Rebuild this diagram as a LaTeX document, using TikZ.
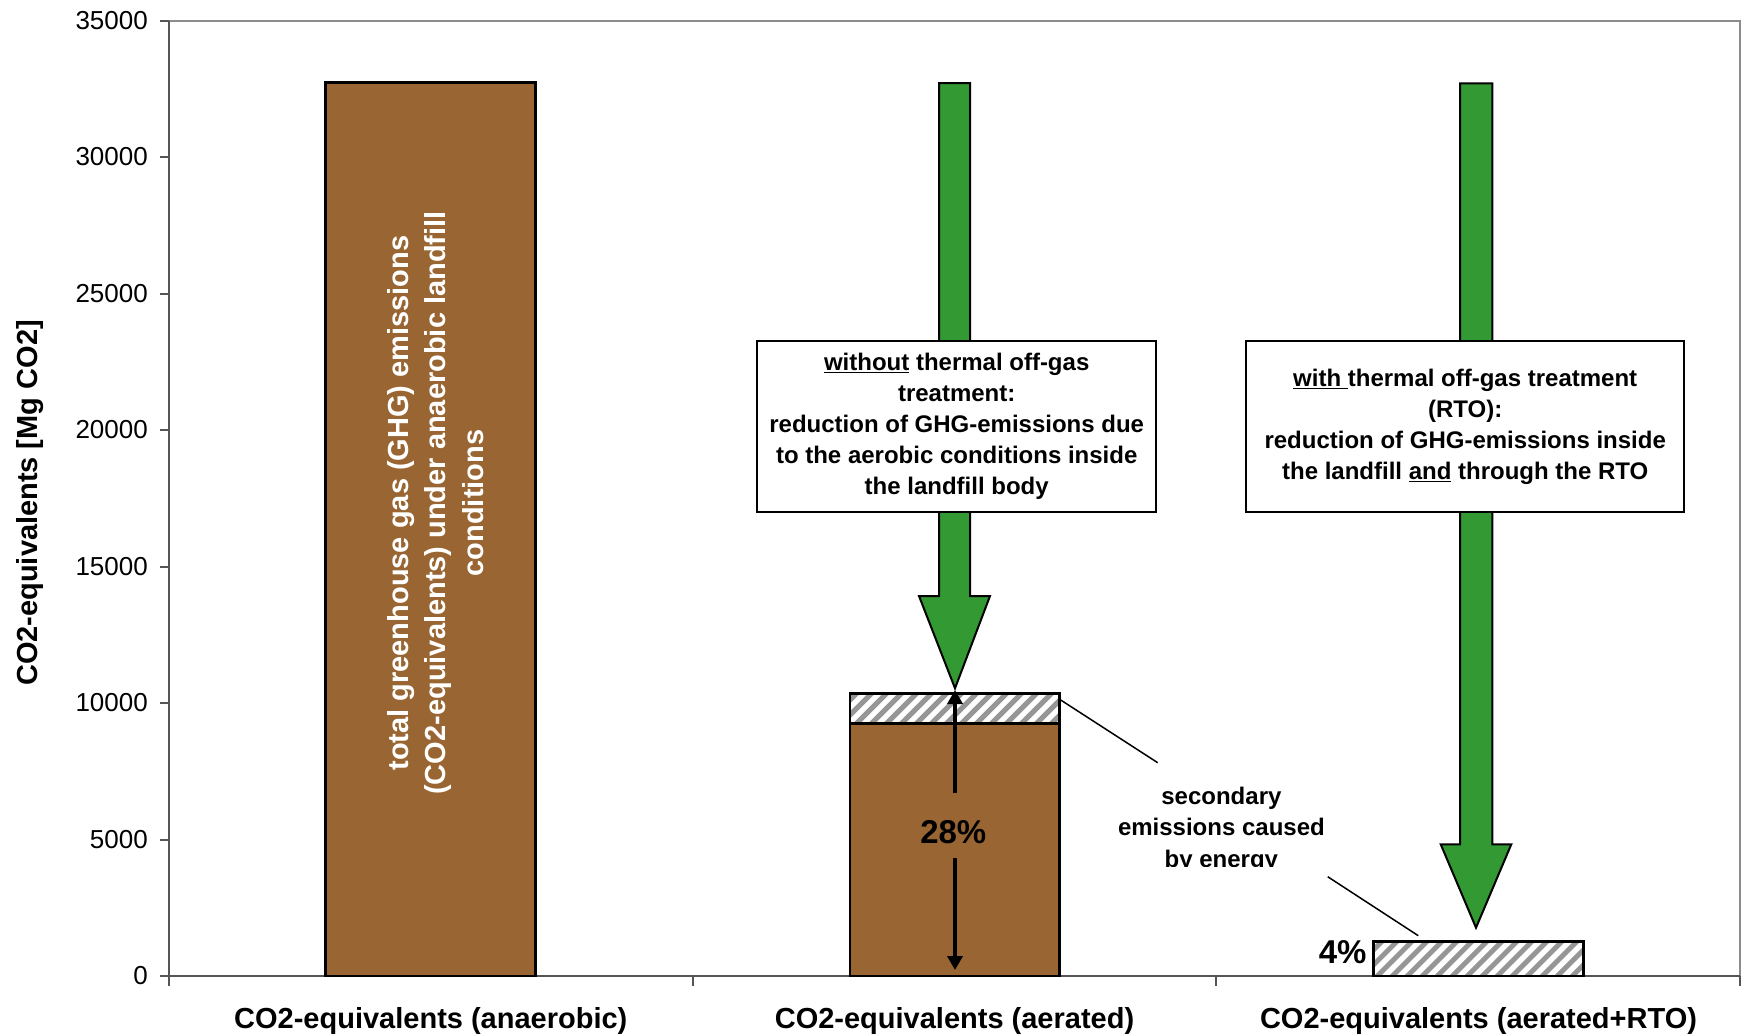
\documentclass[tikz,border=0pt]{standalone}
\usepackage{fontspec}
\setmainfont{Liberation Sans}
\usetikzlibrary{arrows.meta}
\definecolor{barbrown}{RGB}{153,102,51}
\definecolor{arrgreen}{RGB}{51,153,51}
\definecolor{axisgray}{RGB}{85,85,85}
\definecolor{framegray}{RGB}{140,140,140}
\definecolor{hatchgray}{RGB}{150,150,150}
\begin{document}
\begin{tikzpicture}[x=1pt,y=-1pt,
  barbox/.style={fill=barbrown,draw=black,line width=2.5pt},
  outlinebox/.style={draw=black,line width=2.5pt},
  hatchline/.style={hatchgray,line width=5pt},
  greenarrow/.style={fill=arrgreen,draw=black,line width=2pt,line join=miter},
  infobox/.style={draw=black,line width=2pt,fill=white,align=center,inner sep=0pt,
     font=\bfseries\fontsize{24}{31}\selectfont},
  ticklabel/.style={anchor=east,font=\fontsize{26}{30}\selectfont,inner sep=0pt},
  catlabel/.style={font=\bfseries\fontsize{29}{34}\selectfont,inner sep=0pt},
  pctlabel/.style={font=\bfseries\fontsize{33}{38}\selectfont,inner sep=0pt},
  blackarrow/.style={line width=3.5pt,-{Triangle[length=14pt,width=15pt]}},
  leader/.style={black,line width=1.5pt}]
\useasboundingbox (0,0) rectangle (1747,1034);

% plot frame and axes
\draw[framegray,line width=2pt] (169,20.5) -- (1740,20.5) -- (1740,976);
\draw[axisgray,line width=2pt] (169,20.5) -- (169,986);
\draw[axisgray,line width=2pt] (160,976) -- (1740,976);
\foreach \v/\k in {0/0,5000/1,10000/2,15000/3,20000/4,25000/5,30000/6,35000/7}{
  \draw[axisgray,line width=2pt] (160,{976-\k*136.5}) -- (169,{976-\k*136.5});
  \node[ticklabel] (tick\k) at (148,{976-\k*136.5}) {\v};
}
\foreach \x in {692.7,1216.3,1740}{
  \draw[axisgray,line width=2pt] (\x,976) -- (\x,986);
}

% y axis title
\node[rotate=90,font=\bfseries\fontsize{29}{33}\selectfont,inner sep=0pt] (ytitle) at (30,503) {CO2-equivalents [Mg CO2]};

% category labels
\node[catlabel] (cat1) at (430.8,1021) {CO2-equivalents (anaerobic)};
\node[catlabel] (cat2) at (954.5,1021) {CO2-equivalents (aerated)};
\node[catlabel] (cat3) at (1478.5,1021) {CO2-equivalents (aerated+RTO)};

% bar 1 (anaerobic)
\draw[barbox] (325.7,82.7) rectangle (535.3,976);
\node[rotate=90,align=center,text=white,inner sep=0pt,
      font=\bfseries\fontsize{29}{37.3}\selectfont] (bartext) at (435.6,503)
  {total greenhouse gas (GHG) emissions\\(CO2-equivalents) under anaerobic landfill\\conditions};

% bar 2 (aerated)
\draw[barbox] (850,723.3) rectangle (1059.3,976);
\begin{scope}
  \clip (850,693.3) rectangle (1059.3,723.3);
  \fill[white] (850,693.3) rectangle (1059.3,723.3);
  \foreach \k in {-3,...,15}{
    \draw[hatchline] ({850+\k*15},730) -- ++(45,-45);
  }
\end{scope}
\draw[outlinebox] (850,693.3) rectangle (1059.3,723.3);

% bar 3 (aerated+RTO)
\begin{scope}
  \clip (1373.3,941.7) rectangle (1583.3,976);
  \fill[white] (1373.3,941.7) rectangle (1583.3,976);
  \foreach \k in {-4,...,15}{
    \draw[hatchline] ({1373.3+\k*15},980) -- ++(45,-45);
  }
\end{scope}
\draw[outlinebox] (1373.3,941.7) rectangle (1583.3,976);

% green arrows
\draw[greenarrow] (939,83) -- (970,83) -- (970,596) -- (990,596) -- (955,688.3)
   -- (919,596) -- (939,596) -- cycle;
\draw[greenarrow] (1460,83.3) -- (1492.3,83.3) -- (1492.3,844.3) -- (1511.3,844.3)
   -- (1476,927.7) -- (1440.7,844.3) -- (1460,844.3) -- cycle;

% info boxes
\node[infobox,minimum width=398.7pt,minimum height=170.3pt] (box1) at (956.7,426.5)
  {\underline{without} thermal off-gas\\treatment:\\reduction of GHG-emissions due\\to the aerobic conditions inside\\the landfill body};
\node[infobox,minimum width=438.3pt,minimum height=170.3pt] (box2) at (1465.2,426.5)
  {\underline{with\ }thermal off-gas treatment\\(RTO):\\reduction of GHG-emissions inside\\the landfill \underline{and} through the RTO};

% 28% double arrow
\node[pctlabel] (pct28) at (953.3,831.7) {28\%};
\coordinate (gapTop) at (955,793.3);
\coordinate (gapBot) at (955,858.3);
\coordinate (tipTop) at (955,690);
\coordinate (tipBot) at (955,970);
\draw[blackarrow] (gapTop) -- (tipTop);
\draw[blackarrow] (gapBot) -- (tipBot);

% 4% label
\node[pctlabel,anchor=east] (pct4) at (1366.7,952.3) {4\%};

% secondary emissions label (clipped)
\begin{scope}
  \clip (1050,760) rectangle (1400,866);
  \node[align=center,inner sep=0pt,font=\bfseries\fontsize{24}{31.6}\selectfont] (sec) at (1221.4,829.8)
    {secondary\\emissions caused\\by energy};
\end{scope}

% leader lines
\coordinate (lead1a) at (1060.7,700);
\coordinate (lead1b) at (1157.7,762.7);
\coordinate (lead2a) at (1327.7,876.7);
\coordinate (lead2b) at (1418.3,935.7);
\draw[leader] (lead1a) -- (lead1b);
\draw[leader] (lead2a) -- (lead2b);
\end{tikzpicture}
\end{document}
